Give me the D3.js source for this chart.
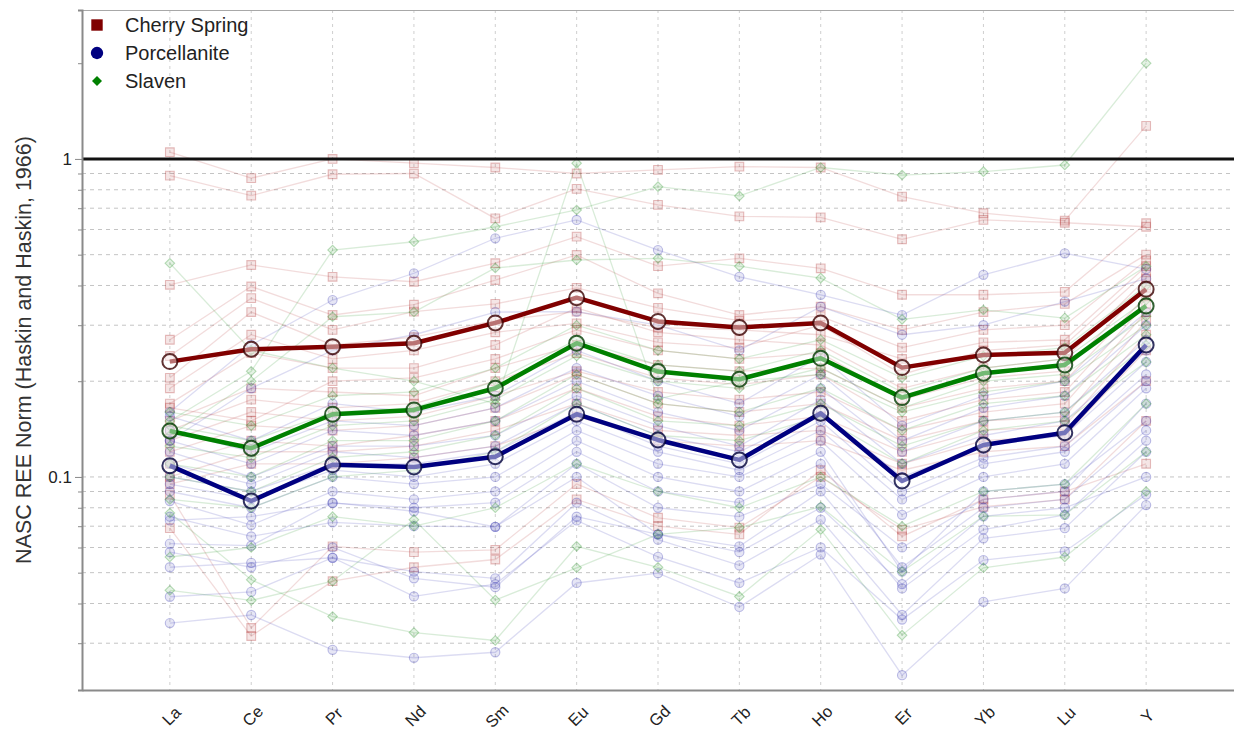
<!DOCTYPE html>
<html>
<head>
<meta charset="utf-8">
<script src="https://cdn.jsdelivr.net/npm/d3@7"></script>
<style>
  html, body { margin: 0; padding: 0; background: #ffffff; }
  svg { display: block; }
</style>
</head>
<body>
<svg id="chart" width="1234" height="731"></svg>
<script>
// REE elements along the x axis
const categories = ["La", "Ce", "Pr", "Nd", "Sm", "Eu", "Gd", "Tb", "Ho", "Er", "Yb", "Lu", "Y"];

// Labelled y ticks (log axis)
const yTickValues = [0.1, 1];
const yTickLabels = ["0.1", "1"];

// Group names in legend order
const groupNames = ["Cherry Spring", "Porcellanite", "Slaven"];

// Group averages (NASC normalised)
const cherryMean = [0.2305, 0.2521, 0.2569, 0.2633, 0.305, 0.3663, 0.3083, 0.2952, 0.305, 0.2207, 0.2418, 0.2459, 0.3894];
const porcellaniteMean = [0.1085, 0.0840, 0.1092, 0.1075, 0.1158, 0.1575, 0.1307, 0.1131, 0.1586, 0.0971, 0.1260, 0.1378, 0.2601];
const slavenMean = [0.1395, 0.1231, 0.1575, 0.1625, 0.1901, 0.2633, 0.2144, 0.2029, 0.2361, 0.1776, 0.2119, 0.2250, 0.3450];

// Individual Cherry Spring samples
const cherrySamples = [
  [1.05, 0.87, 1.00, 0.97, 0.94, 0.90, 0.924, 0.946, 0.94, 0.761, 0.675, 0.64, 1.27],
  [0.886, 0.767, 0.895, 0.90, 0.65, 0.805, 0.717, 0.66, 0.655, 0.559, 0.643, 0.63, 0.612],
  [0.402, 0.464, 0.426, 0.411, 0.47, 0.57, 0.46, 0.487, 0.453, 0.374, 0.374, 0.382, 0.628],
  [0.27, 0.397, 0.323, 0.348, 0.416, 0.499, 0.378, 0.323, 0.343, 0.29, 0.33, 0.35, 0.50],
  [0.24, 0.365, 0.29, 0.331, 0.35, 0.393, 0.34, 0.31, 0.32, 0.255, 0.29, 0.30, 0.48],
  [0.205, 0.33, 0.26, 0.275, 0.31, 0.331, 0.295, 0.29, 0.28, 0.235, 0.265, 0.27, 0.46],
  [0.19, 0.28, 0.235, 0.25, 0.285, 0.304, 0.265, 0.255, 0.30, 0.21, 0.25, 0.26, 0.44],
  [0.17, 0.245, 0.22, 0.22, 0.26, 0.34, 0.285, 0.27, 0.26, 0.19, 0.22, 0.235, 0.42],
  [0.165, 0.15, 0.20, 0.205, 0.235, 0.29, 0.25, 0.235, 0.245, 0.175, 0.205, 0.215, 0.40],
  [0.15, 0.19, 0.185, 0.18, 0.22, 0.26, 0.225, 0.215, 0.22, 0.165, 0.19, 0.20, 0.37],
  [0.14, 0.175, 0.165, 0.17, 0.20, 0.245, 0.205, 0.195, 0.21, 0.15, 0.175, 0.185, 0.35],
  [0.13, 0.16, 0.15, 0.155, 0.18, 0.215, 0.185, 0.175, 0.185, 0.14, 0.16, 0.17, 0.33],
  [0.12, 0.145, 0.14, 0.145, 0.165, 0.21, 0.17, 0.16, 0.17, 0.13, 0.15, 0.155, 0.31],
  [0.11, 0.13, 0.125, 0.135, 0.15, 0.19, 0.155, 0.145, 0.155, 0.12, 0.14, 0.145, 0.28],
  [0.10, 0.12, 0.12, 0.125, 0.14, 0.17, 0.14, 0.135, 0.14, 0.11, 0.13, 0.135, 0.25],
  [0.095, 0.11, 0.11, 0.115, 0.125, 0.155, 0.13, 0.125, 0.13, 0.105, 0.12, 0.125, 0.20],
  [0.088, 0.0335, 0.0605, 0.058, 0.059, 0.095, 0.0744, 0.0693, 0.10, 0.0683, 0.0806, 0.085, 0.15],
  [0.069, 0.0316, 0.047, 0.052, 0.055, 0.085, 0.07, 0.066, 0.105, 0.065, 0.085, 0.09, 0.11]
];

// Individual Porcellanite samples
const porcellaniteSamples = [
  [0.0347, 0.0368, 0.0286, 0.027, 0.0281, 0.0464, 0.0498, 0.039, 0.057, 0.0238, 0.0405, 0.0446, 0.0816],
  [0.042, 0.0435, 0.0557, 0.0421, 0.046, 0.073, 0.0561, 0.0464, 0.060, 0.0356, 0.0548, 0.0583, 0.088],
  [0.052, 0.0537, 0.0557, 0.0504, 0.048, 0.083, 0.0635, 0.0527, 0.0734, 0.0368, 0.0641, 0.069, 0.12],
  [0.0617, 0.0608, 0.083, 0.078, 0.0697, 0.10, 0.066, 0.0605, 0.09, 0.0446, 0.0683, 0.076, 0.13],
  [0.073, 0.075, 0.0827, 0.08, 0.083, 0.12, 0.09, 0.083, 0.11, 0.052, 0.08, 0.085, 0.14],
  [0.084, 0.0706, 0.09, 0.085, 0.09, 0.13, 0.10, 0.09, 0.12, 0.0504, 0.09, 0.095, 0.15],
  [0.09, 0.08, 0.10, 0.095, 0.10, 0.14, 0.11, 0.10, 0.13, 0.076, 0.10, 0.11, 0.19],
  [0.095, 0.085, 0.105, 0.10, 0.11, 0.15, 0.12, 0.105, 0.14, 0.085, 0.11, 0.12, 0.20],
  [0.10, 0.09, 0.11, 0.11, 0.12, 0.16, 0.125, 0.11, 0.15, 0.09, 0.115, 0.125, 0.21],
  [0.11, 0.095, 0.12, 0.115, 0.125, 0.17, 0.135, 0.12, 0.16, 0.10, 0.125, 0.135, 0.23],
  [0.12, 0.10, 0.125, 0.125, 0.135, 0.18, 0.145, 0.125, 0.175, 0.11, 0.135, 0.15, 0.25],
  [0.13, 0.11, 0.14, 0.135, 0.15, 0.20, 0.16, 0.14, 0.19, 0.12, 0.15, 0.16, 0.27],
  [0.14, 0.12, 0.15, 0.145, 0.165, 0.22, 0.18, 0.155, 0.21, 0.13, 0.165, 0.18, 0.30],
  [0.155, 0.13, 0.17, 0.16, 0.18, 0.25, 0.20, 0.17, 0.24, 0.145, 0.18, 0.20, 0.33],
  [0.16, 0.26, 0.36, 0.437, 0.563, 0.643, 0.517, 0.426, 0.374, 0.323, 0.432, 0.505, 0.45],
  [0.13, 0.19, 0.25, 0.28, 0.33, 0.331, 0.30, 0.25, 0.343, 0.28, 0.30, 0.356, 0.42],
  [0.058, 0.052, 0.06, 0.048, 0.045, 0.075, 0.066, 0.058, 0.08, 0.046, 0.0752, 0.08, 0.10],
  [0.075, 0.065, 0.072, 0.07, 0.0697, 0.11, 0.08, 0.075, 0.095, 0.06, 0.085, 0.09, 0.17]
];

// Individual Slaven samples
const slavenSamples = [
  [0.47, 0.25, 0.22, 0.20, 0.17, 0.97, 0.176, 0.20, 0.21, 0.16, 0.185, 0.20, 0.30],
  [0.15, 0.215, 0.517, 0.549, 0.612, 0.691, 0.818, 0.765, 0.94, 0.89, 0.912, 0.957, 2.0],
  [0.135, 0.20, 0.319, 0.33, 0.454, 0.481, 0.487, 0.46, 0.422, 0.313, 0.335, 0.316, 0.46],
  [0.077, 0.0475, 0.0364, 0.0324, 0.0306, 0.0605, 0.052, 0.0421, 0.0683, 0.0318, 0.0518, 0.056, 0.09],
  [0.044, 0.0409, 0.047, 0.0734, 0.041, 0.0518, 0.066, 0.0693, 0.0806, 0.0504, 0.0752, 0.076, 0.12],
  [0.056, 0.06, 0.075, 0.07, 0.08, 0.11, 0.09, 0.08, 0.10, 0.07, 0.09, 0.095, 0.17],
  [0.11, 0.10, 0.13, 0.13, 0.15, 0.21, 0.17, 0.16, 0.19, 0.14, 0.17, 0.18, 0.28],
  [0.125, 0.115, 0.145, 0.15, 0.175, 0.24, 0.20, 0.19, 0.22, 0.165, 0.20, 0.21, 0.32],
  [0.145, 0.13, 0.16, 0.165, 0.20, 0.27, 0.225, 0.215, 0.25, 0.185, 0.22, 0.235, 0.36],
  [0.16, 0.145, 0.18, 0.185, 0.22, 0.30, 0.25, 0.235, 0.27, 0.205, 0.24, 0.255, 0.40],
  [0.10, 0.09, 0.115, 0.12, 0.135, 0.19, 0.15, 0.145, 0.17, 0.125, 0.15, 0.16, 0.26],
  [0.085, 0.08, 0.10, 0.105, 0.12, 0.17, 0.135, 0.13, 0.155, 0.11, 0.14, 0.15, 0.23]
];

// ---------------------------------------------------------------------------
const W = 1234, H = 731;
const plot = { left: 82, top: 10, right: 1234, bottom: 690 };

const groups = [
  { name: groupNames[0], samples: cherrySamples, mean: cherryMean,
    color: "#800000", faint: "#b03030", dark: "#3a0000", shape: "square" },
  { name: groupNames[1], samples: porcellaniteSamples, mean: porcellaniteMean,
    color: "#000080", faint: "#3030b0", dark: "#00003a", shape: "circle" },
  { name: groupNames[2], samples: slavenSamples, mean: slavenMean,
    color: "#008000", faint: "#209020", dark: "#003a00", shape: "diamond" }
];

const svg = d3.select("#chart");

const x = d3.scalePoint()
  .domain(categories)
  .range([plot.left, plot.right])
  .padding(1.08);

const y = d3.scaleLog()
  .domain([0.02138, 2.94])
  .range([plot.bottom, plot.top]);

// Symbol generator for each group's marker shape
function symbolPath(shape, size) {
  if (shape === "circle") return d3.symbol(d3.symbolCircle, size)();
  return d3.symbol(d3.symbolSquare, size)();
}
function symbolRotate(shape) { return shape === "diamond" ? " rotate(45)" : ""; }

// ---- gridlines -------------------------------------------------------------
const gridVals = y.ticks().filter(v => v < 1);
const grid = svg.append("g");

grid.selectAll("line.h").data(gridVals).join("line")
  .attr("x1", plot.left).attr("x2", plot.right)
  .attr("y1", d => y(d)).attr("y2", d => y(d))
  .attr("stroke", "#c4c4c4").attr("stroke-width", 1)
  .attr("stroke-dasharray", "4,4");

grid.selectAll("line.v").data(categories).join("line")
  .attr("x1", d => x(d)).attr("x2", d => x(d))
  .attr("y1", plot.top).attr("y2", plot.bottom)
  .attr("stroke", "#cfcfcf").attr("stroke-width", 1)
  .attr("stroke-dasharray", "3,4");

// ---- individual samples ----------------------------------------------------
const line = d3.line()
  .x((d, i) => x(categories[i]))
  .y(d => y(d));

const sampleLayer = svg.append("g");
groups.forEach(g => {
  sampleLayer.append("g").selectAll("path").data(g.samples).join("path")
    .attr("d", line)
    .attr("fill", "none")
    .attr("stroke", g.faint)
    .attr("stroke-opacity", 0.17)
    .attr("stroke-width", 1.3);
});
groups.forEach(g => {
  const pts = [];
  g.samples.forEach(s => s.forEach((v, i) => pts.push({ c: categories[i], v })));
  sampleLayer.append("g").selectAll("path").data(pts).join("path")
    .attr("d", symbolPath(g.shape, g.shape === "circle" ? 66 : (g.shape === "diamond" ? 46 : 76)))
    .attr("transform", d => `translate(${x(d.c)},${y(d.v)})` + symbolRotate(g.shape))
    .attr("fill", g.faint).attr("fill-opacity", 0.12)
    .attr("stroke", g.faint).attr("stroke-opacity", 0.3)
    .attr("stroke-width", 1.1);
});

// ---- reference line at 1 ---------------------------------------------------
svg.append("line")
  .attr("x1", plot.left).attr("x2", plot.right)
  .attr("y1", y(1)).attr("y2", y(1))
  .attr("stroke", "#111").attr("stroke-width", 3);

// ---- group averages --------------------------------------------------------
const meanLayer = svg.append("g");
groups.forEach(g => {
  meanLayer.append("path")
    .datum(g.mean)
    .attr("d", line)
    .attr("fill", "none")
    .attr("stroke", g.color)
    .attr("stroke-width", 4.5)
    .attr("stroke-linejoin", "round");
});
groups.forEach(g => {
  meanLayer.append("g").selectAll("circle").data(g.mean).join("circle")
    .attr("cx", (d, i) => x(categories[i]))
    .attr("cy", d => y(d))
    .attr("r", 7.5)
    .attr("fill", "#ffffff").attr("fill-opacity", 0.45)
    .attr("stroke", g.dark).attr("stroke-opacity", 0.8)
    .attr("stroke-width", 2);
});

// ---- axes frame ------------------------------------------------------------
svg.append("line")
  .attr("x1", plot.left).attr("x2", plot.right)
  .attr("y1", plot.top + 0.5).attr("y2", plot.top + 0.5)
  .attr("stroke", "#a8a8a8").attr("stroke-width", 1);

const yAxis = d3.axisLeft(y)
  .tickValues(y.ticks())
  .tickSize(4)
  .tickFormat(d => {
    const k = yTickValues.indexOf(d);
    return k >= 0 ? yTickLabels[k] : "";
  });

const yG = svg.append("g")
  .attr("transform", `translate(${plot.left},0)`)
  .call(yAxis);
yG.select(".domain").attr("stroke", "#8a8a8a").attr("stroke-width", 2);
yG.selectAll(".tick line").attr("stroke", "#8a8a8a")
  .attr("x2", d => yTickValues.indexOf(d) >= 0 ? -7 : -4);
yG.selectAll(".tick text")
  .attr("x", -10)
  .attr("font-family", "'Liberation Sans', Arial, sans-serif")
  .attr("font-size", 17)
  .attr("fill", "#222");

const xAxis = d3.axisBottom(x).tickSize(0).tickPadding(0);
const xG = svg.append("g")
  .attr("transform", `translate(0,${plot.bottom})`)
  .call(xAxis);
xG.select(".domain").attr("stroke", "#8a8a8a").attr("stroke-width", 2);
xG.selectAll(".tick text")
  .attr("transform", "translate(1,26) rotate(-45)")
  .attr("text-anchor", "middle")
  .attr("dy", "0.35em")
  .attr("y", 0)
  .attr("font-family", "'Liberation Sans', Arial, sans-serif")
  .attr("font-size", 16.5)
  .attr("fill", "#222");

// Axis title
svg.append("text")
  .attr("transform", `translate(23,${(plot.top + plot.bottom) / 2}) rotate(-90)`)
  .attr("text-anchor", "middle")
  .attr("dy", "0.35em")
  .attr("font-family", "'Liberation Sans', Arial, sans-serif")
  .attr("font-size", 21.5)
  .attr("fill", "#333")
  .text("NASC REE Norm (Haskin and Haskin, 1966)");

// ---- legend ----------------------------------------------------------------
const legend = svg.append("g").attr("transform", "translate(97,25)");
groups.forEach((g, i) => {
  const row = legend.append("g").attr("transform", `translate(0,${i * 28})`);
  row.append("path")
    .attr("d", symbolPath(g.shape, g.shape === "circle" ? 120 : (g.shape === "diamond" ? 50 : 130)))
    .attr("transform", symbolRotate(g.shape))
    .attr("fill", g.color);
  row.append("text")
    .attr("x", 28).attr("dy", "0.36em")
    .attr("font-family", "'Liberation Sans', Arial, sans-serif")
    .attr("font-size", 20)
    .attr("fill", "#222")
    .text(g.name);
});
</script>
</body>
</html>
